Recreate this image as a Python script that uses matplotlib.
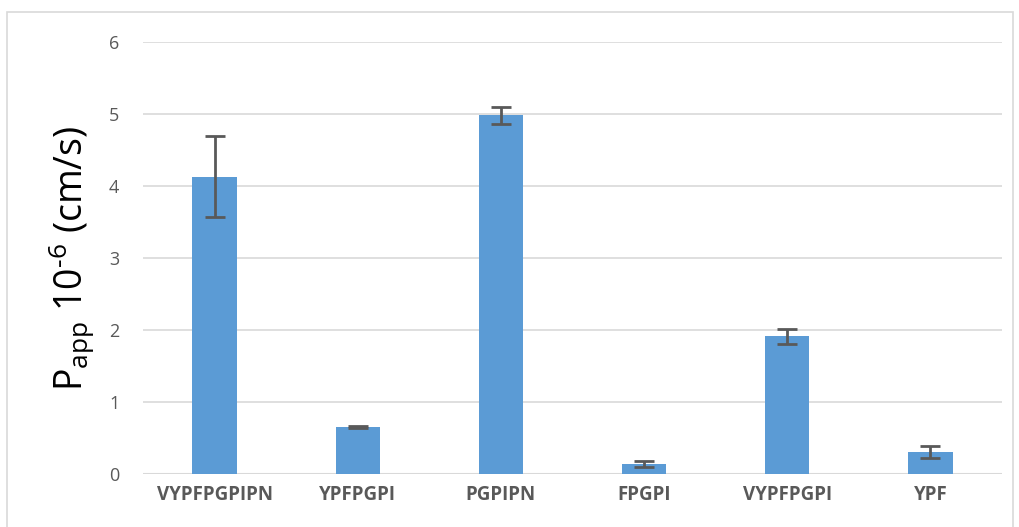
import matplotlib
matplotlib.use('Agg')
import matplotlib.pyplot as plt
from matplotlib.patches import Rectangle
import numpy as np

# Data
peptides = ['VYPFPGPIPN', 'YPFPGPI', 'PGPIPN', 'FPGPI', 'VYPFPGPI', 'YPF']
papp = [4.13, 0.65, 4.98, 0.14, 1.91, 0.31]
papp_err = [0.56, 0.01, 0.12, 0.045, 0.10, 0.085]

plt.rcParams['font.family'] = ['Open Sans', 'DejaVu Sans']

fig = plt.figure(figsize=(10.2, 5.27), dpi=100)
ax = fig.add_axes([143 / 1020, 1 - 474 / 527, (1002 - 143) / 1020, (474 - 42) / 527])

x = np.arange(len(peptides))
ax.bar(x, papp, width=0.31, color='#5b9bd5', zorder=2)
ax.errorbar(x, papp, yerr=papp_err, fmt='none', ecolor='#595959',
            elinewidth=2, capsize=7, capthick=2, zorder=3)

ax.set_xlim(-0.5, len(peptides) - 0.5)
ax.set_ylim(0, 6)
ax.set_yticks(range(0, 7))
ax.grid(axis='y', color='#d9d9d9', linewidth=1.2, zorder=0)
ax.set_xticks(x)
ax.set_xticklabels(peptides, fontsize=13.5, fontweight='bold', color='#595959')
ax.tick_params(axis='y', labelsize=13, labelcolor='#595959', length=0, pad=17)
ax.tick_params(axis='x', length=0, pad=8)
for s in ax.spines.values():
    s.set_visible(False)
ax.axhline(0, color='#d9d9d9', linewidth=1.5, zorder=1)

fig.text(72 / 1020, 1 - 258 / 527,
         'P$_{\\mathregular{app}}$ 10$^{\\mathregular{\u20106}}$ (cm/s)',
         rotation=90, fontsize=27, ha='center', va='center', color='black')

# outer chart border
fig.patches.append(Rectangle((7 / 1020, -0.02), 1006 / 1020, 1 - 12 / 527 + 0.02,
                             transform=fig.transFigure, fill=False,
                             edgecolor='#d9d9d9', linewidth=1.2))

fig.savefig('out.png', dpi=100)
